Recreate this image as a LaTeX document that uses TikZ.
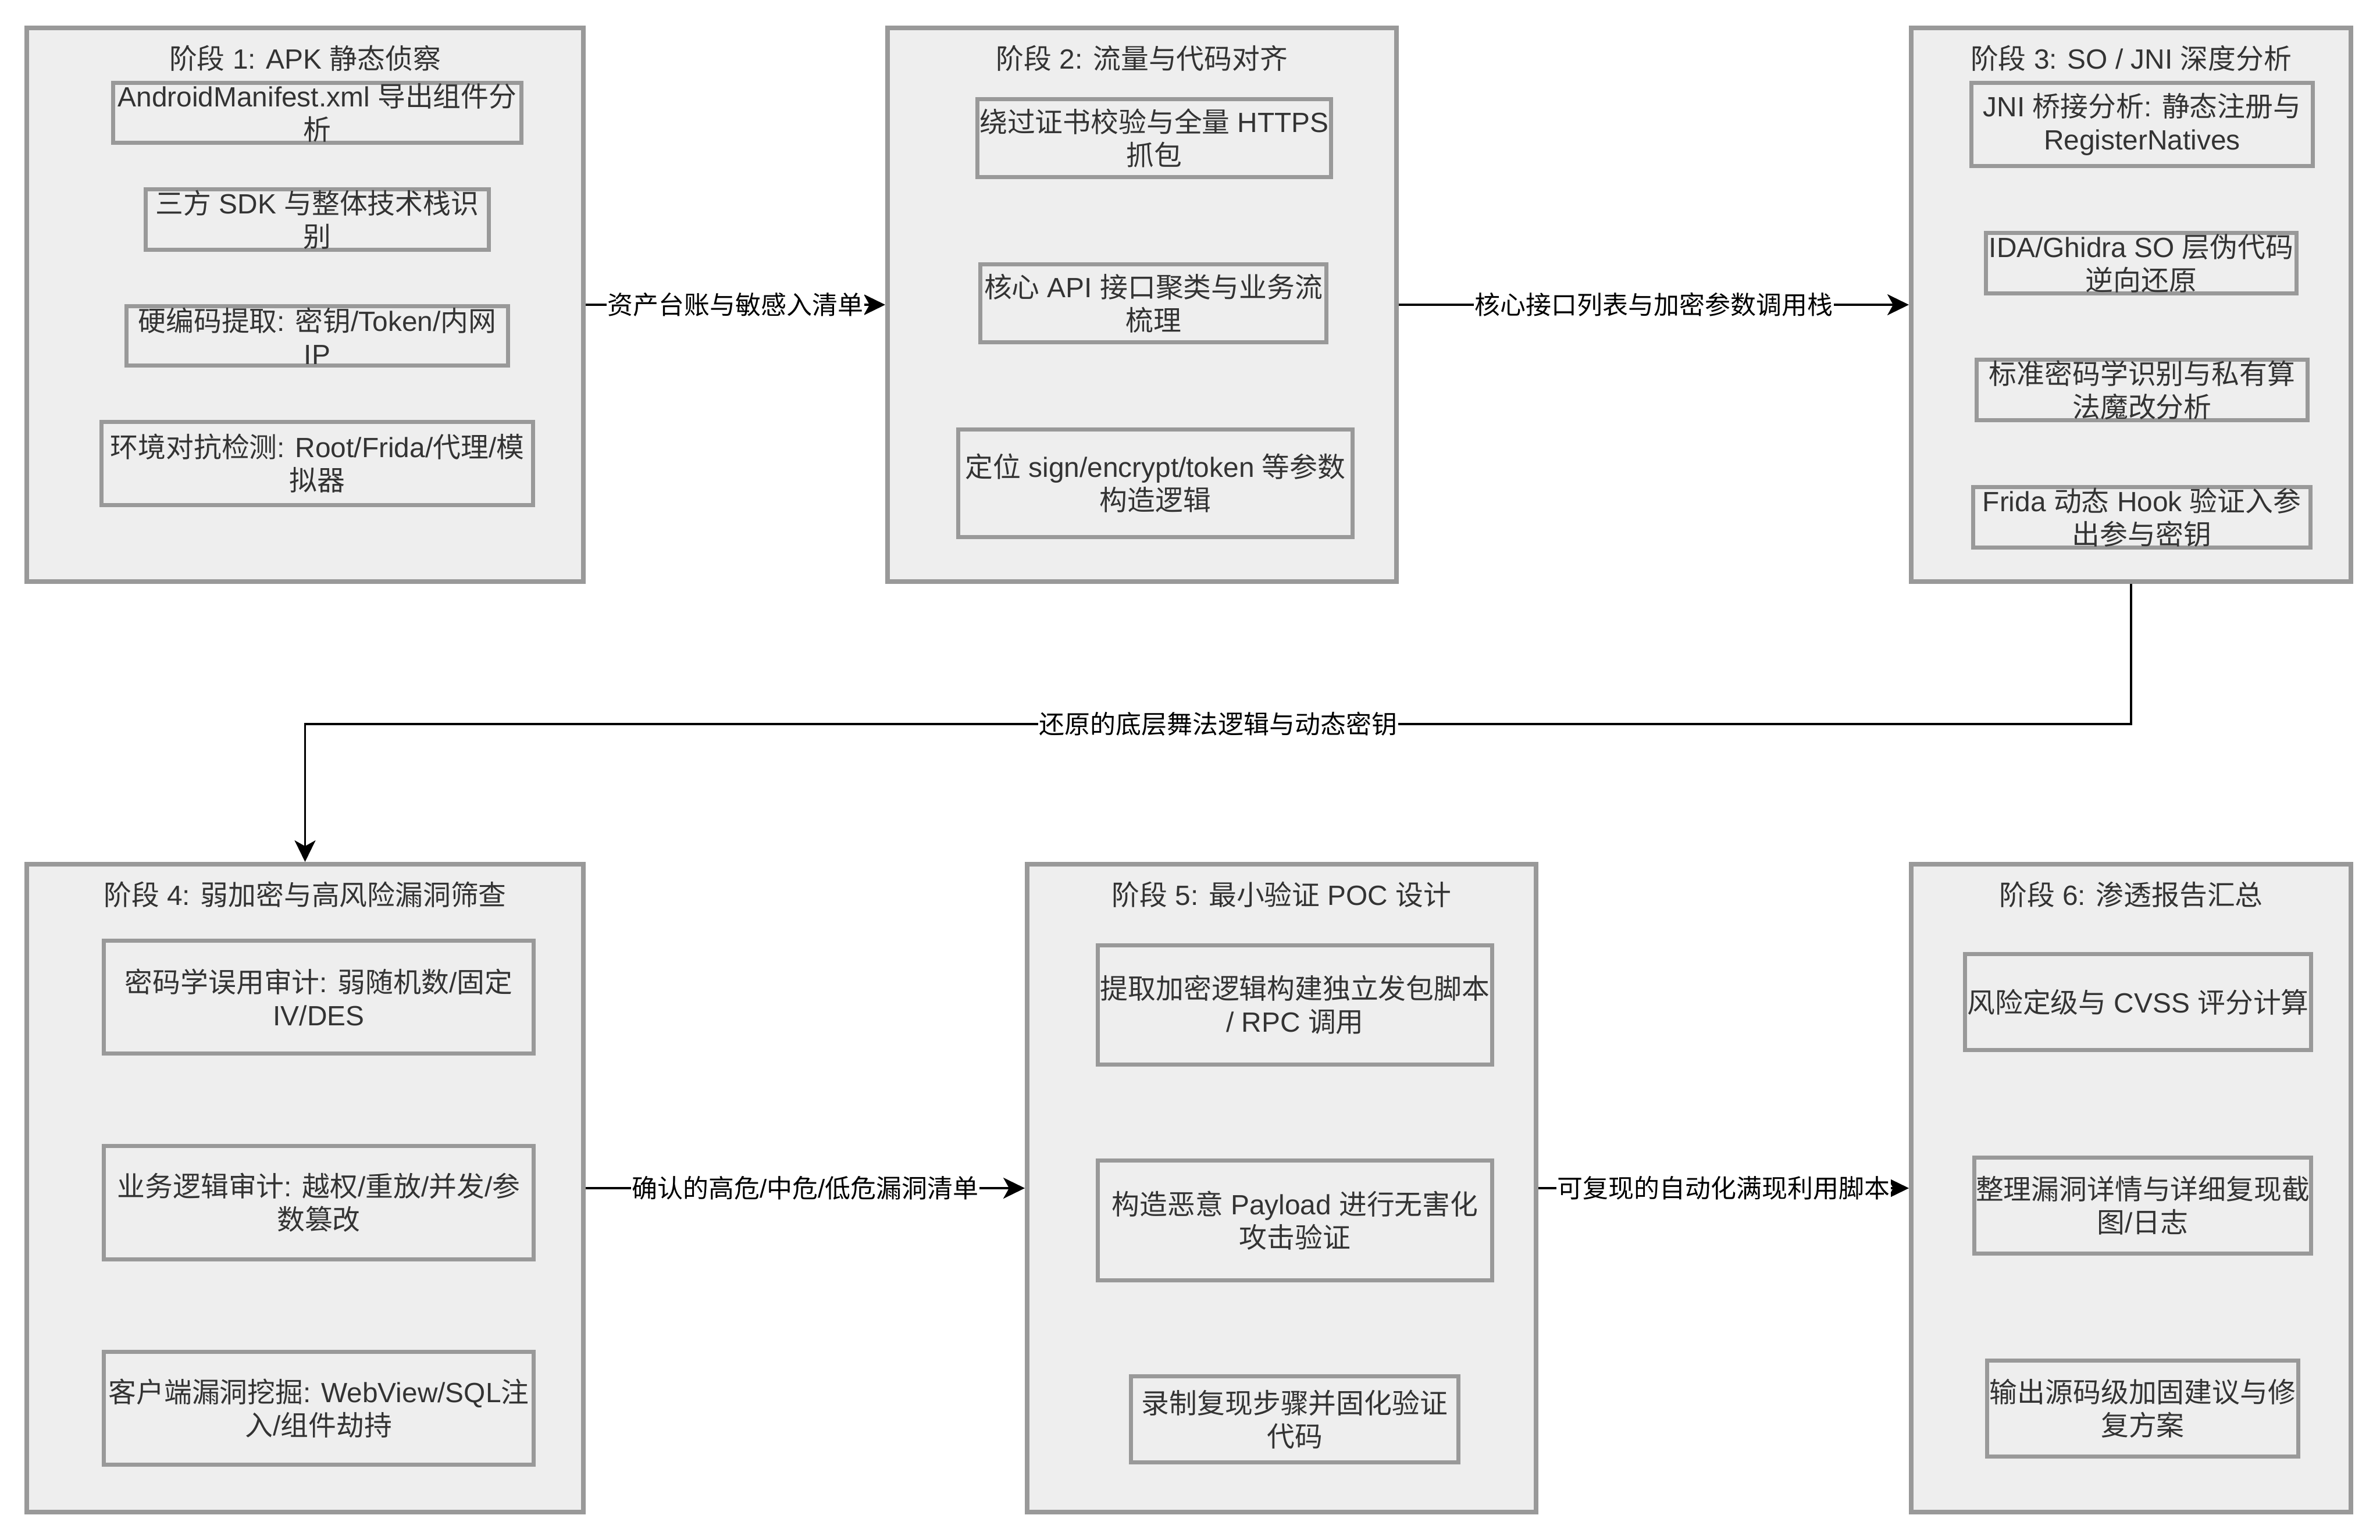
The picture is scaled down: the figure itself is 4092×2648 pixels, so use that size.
\documentclass[tikz,border=0pt]{standalone}
\usepackage{fontspec}
\setmainfont{Liberation Sans}
\newfontfamily\cjkfont{Noto Sans CJK SC}
\newcommand\latinfont{\rmfamily}
\XeTeXinterchartokenstate=1
\newXeTeXintercharclass\CJKcls
\newcount\cjkcnt
\cjkcnt="4E00
\loop
  \XeTeXcharclass\cjkcnt=\CJKcls
  \ifnum\cjkcnt<"9FFF \advance\cjkcnt by 1
\repeat
\XeTeXinterchartoks 0 \CJKcls={\cjkfont}
\XeTeXinterchartoks 4095 \CJKcls={\cjkfont}
\XeTeXinterchartoks \CJKcls 0={\latinfont}
\XeTeXinterchartoks \CJKcls 4095={\latinfont}
\usetikzlibrary{arrows.meta}
\definecolor{boxgray}{HTML}{999999}
\definecolor{boxfill}{HTML}{EEEEEE}
\definecolor{textgray}{HTML}{333333}
\newcommand\bodyfont{\fontsize{13.6pt}{16.2pt}\selectfont}
\newcommand\lblfont{\fontsize{12.5pt}{15pt}\selectfont}
\tikzset{
  outerbox/.style={draw=boxgray, fill=boxfill, line width=0.08cm, inner sep=0pt},
  innerbox/.style={draw=boxgray, fill=boxfill, line width=0.07cm, inner sep=0pt},
  boxtext/.style={text=textgray, align=center, font=\bodyfont, inner sep=0pt},
  titletext/.style={text=textgray, font=\bodyfont, inner sep=0pt},
  conn/.style={draw=black, line width=0.035cm, -{Stealth[length=0.37cm, width=0.36cm, inset=0.1cm]}},
  lbl/.style={fill=white, text=black, font=\lblfont, inner sep=0.02cm},
}
\newcommand\mkouter[5]{%
  \node[outerbox, minimum width={(#4-#2)*0.01cm-0.08cm}, minimum height={(#5-#3)*0.01cm-0.08cm}] (#1) at ({(#2+#4)/2},{(#3+#5)/2}) {};}
\newcommand\mkinner[6]{%
  \node[innerbox, minimum width={(#4-#2)*0.01cm-0.07cm}, minimum height={(#5-#3)*0.01cm-0.07cm}] (#1) at ({(#2+#4)/2},{(#3+#5)/2}) {};
  \node[boxtext] (#1t) at (#1.center) {#6};}
\begin{document}
\begin{tikzpicture}[x=0.01cm, y=-0.01cm]
\fill[white] (0,0) rectangle (4092,2648);
\useasboundingbox (0,0) rectangle (4092,2648);

% stage boxes
\mkouter{s1}{42}{44}{1007}{1004}
\mkouter{s2}{1522}{44}{2405}{1004}
\mkouter{s3}{3282}{44}{4046}{1004}
\mkouter{s4}{42}{1482}{1007}{2604}
\mkouter{s5}{1762}{1482}{2645}{2604}
\mkouter{s6}{3282}{1482}{4046}{2604}

% titles
\node[titletext] (t1) at (524.5,100) {阶段 1: APK 静态侦察};
\node[titletext] (t2) at (1963.5,100) {阶段 2: 流量与代码对齐};
\node[titletext] (t3) at (3664,100) {阶段 3: SO / JNI 深度分析};
\node[titletext] (t4) at (524.5,1538) {阶段 4: 弱加密与高风险漏洞筛查};
\node[titletext] (t5) at (2203.5,1538) {阶段 5: 最小验证 POC 设计};
\node[titletext] (t6) at (3664,1538) {阶段 6: 渗透报告汇总};

% stage 1
\mkinner{s1a}{191}{139}{900}{249}{AndroidManifest.xml 导出组件分\\析}
\mkinner{s1b}{247}{322}{844}{433}{三方 SDK 与整体技术栈识\\别}
\mkinner{s1c}{214}{523}{877}{632}{硬编码提取: 密钥/Token/内网\\IP}
\mkinner{s1d}{171}{722}{920}{872}{环境对抗检测: Root/Frida/代理/模\\拟器}
% stage 2
\mkinner{s2a}{1677}{167}{2292}{308}{绕过证书校验与全量 HTTPS\\抓包}
\mkinner{s2b}{1682}{451}{2284}{592}{核心 API 接口聚类与业务流\\梳理}
\mkinner{s2c}{1644}{735}{2329}{927}{定位 sign/encrypt/token 等参数\\构造逻辑}
% stage 3
\mkinner{s3a}{3386}{139}{3980}{289}{JNI 桥接分析: 静态注册与\\RegisterNatives}
\mkinner{s3b}{3411}{397}{3952}{508}{IDA/Ghidra SO 层伪代码\\逆向还原}
\mkinner{s3c}{3395}{615}{3971}{726}{标准密码学识别与私有算\\法魔改分析}
\mkinner{s3d}{3389}{834}{3976}{945}{Frida 动态 Hook 验证入参\\出参与密钥}
% stage 4
\mkinner{s4a}{175}{1614}{921}{1815}{密码学误用审计: 弱随机数/固定\\IV/DES}
\mkinner{s4b}{175}{1967}{921}{2169}{业务逻辑审计: 越权/重放/并发/参\\数篡改}
\mkinner{s4c}{175}{2321}{921}{2522}{客户端漏洞挖掘: WebView/SQL注\\入/组件劫持}
% stage 5
\mkinner{s5a}{1884}{1622}{2569}{1834}{提取加密逻辑构建独立发包脚本\\/ RPC 调用}
\mkinner{s5b}{1884}{1992}{2569}{2205}{构造恶意 Payload 进行无害化\\攻击验证}
\mkinner{s5c}{1941}{2363}{2511}{2518}{录制复现步骤并固化验证\\代码}
% stage 6
\mkinner{s6a}{3375}{1637}{3977}{1809}{风险定级与 CVSS 评分计算}
\mkinner{s6b}{3391}{1987}{3977}{2159}{整理漏洞详情与详细复现截\\图/日志}
\mkinner{s6c}{3413}{2336}{3955}{2508}{输出源码级加固建议与修\\复方案}

% connectors
\draw[conn] (s1) -- node[lbl] (l1) {资产台账与敏感入清单} (s2);
\draw[conn] (s2) -- node[lbl] (l2) {核心接口列表与加密参数调用栈} (s3);
\coordinate (k1) at (3664,1245);
\coordinate (k2) at (524.5,1245);
\draw[conn] (s3.south) -- (k1) -- node[lbl] (l3) {还原的底层舞法逻辑与动态密钥} (k2) -- (s4.north);
\draw[conn] (s4) -- node[lbl] (l4) {确认的高危/中危/低危漏洞清单} (s5);
\draw[conn] (s5) -- node[lbl] (l5) {可复现的自动化满现利用脚本} (s6);
\end{tikzpicture}
\end{document}
